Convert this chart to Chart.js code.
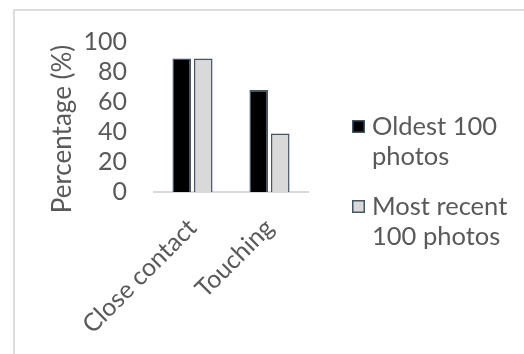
<!DOCTYPE html>
<html>
<head>
<meta charset="utf-8">
<script src="https://cdn.jsdelivr.net/npm/chart.js@4"></script>
<style>
  html, body { margin: 0; padding: 0; background: #ffffff; }
  #wrap { position: relative; width: 524px; height: 354px; overflow: hidden; }
  #chart { position: absolute; left: 0; top: 0; }
  #frame {
    position: absolute; left: 13px; top: 9px; right: 0; bottom: 0;
    border-left: 2px solid #dddddd; border-top: 2px solid #dddddd;
    pointer-events: none;
  }
</style>
</head>
<body>
<div id="wrap">
  <canvas id="chart" width="524" height="354"></canvas>
  <div id="frame"></div>
</div>
<script>
// Share of photos showing each kind of contact
const categories = ['Close contact', 'Touching'];
const oldestPhotos = [89, 68];
const recentPhotos = [89, 39];
const seriesNames = ['Oldest 100 photos', 'Most recent 100 photos'];
const legendLines = [['Oldest 100', 'photos'], ['Most recent', '100 photos']];
const yTicks = [0, 20, 40, 60, 80, 100];
const yTitle = 'Percentage (%)';

const FONT = 'Lato, "Open Sans", sans-serif';
const TEXT = '#595959';
const EDGE = '#44546a';

// Rotated value-axis title, placed left of the tick labels
const axisTitle = {
  id: 'axisTitle',
  afterDraw(chart, args, opts) {
    const ctx = chart.ctx;
    ctx.save();
    ctx.translate(opts.x, opts.y);
    ctx.rotate(-Math.PI / 2);
    ctx.font = opts.size + 'px ' + FONT;
    ctx.fillStyle = TEXT;
    ctx.textAlign = 'center';
    ctx.textBaseline = 'middle';
    ctx.fillText(opts.text, 0, 0);
    ctx.restore();
  }
};

// Legend with wrapped labels, drawn from the dataset styles
const wrappedLegend = {
  id: 'wrappedLegend',
  afterDraw(chart, args, opts) {
    const ctx = chart.ctx;
    ctx.save();
    ctx.font = opts.size + 'px ' + FONT;
    ctx.textAlign = 'left';
    ctx.textBaseline = 'alphabetic';
    chart.data.datasets.forEach((ds, i) => {
      const top = opts.y + i * opts.itemGap;
      ctx.fillStyle = ds.backgroundColor;
      ctx.fillRect(opts.x, top, opts.box, opts.box);
      ctx.lineWidth = 1.5;
      ctx.strokeStyle = ds.borderColor;
      ctx.strokeRect(opts.x + 0.75, top + 0.75, opts.box - 1.5, opts.box - 1.5);
      ctx.fillStyle = TEXT;
      opts.lines[i].forEach((line, j) => {
        ctx.fillText(line, opts.x + opts.box + opts.textGap, top + opts.firstBase + j * opts.lineGap);
      });
    });
    ctx.restore();
  }
};

new Chart(document.getElementById('chart'), {
  type: 'bar',
  data: {
    labels: categories,
    datasets: [
      {
        label: seriesNames[0],
        data: oldestPhotos,
        backgroundColor: '#000000',
        borderColor: EDGE,
        borderWidth: 1.5,
        categoryPercentage: 0.56,
        barPercentage: 0.86
      },
      {
        label: seriesNames[1],
        data: recentPhotos,
        backgroundColor: '#d9d9d9',
        borderColor: EDGE,
        borderWidth: 1.5,
        categoryPercentage: 0.56,
        barPercentage: 0.86
      }
    ]
  },
  options: {
    responsive: false,
    animation: false,
    events: [],
    layout: { padding: { left: 0, top: 35, right: 216, bottom: 0 } },
    plugins: {
      legend: { display: false },
      tooltip: { enabled: false },
      axisTitle: { text: yTitle, x: 63, y: 129, size: 26 },
      wrappedLegend: {
        lines: legendLines, x: 352, y: 120, box: 13, textGap: 7,
        firstBase: 15, lineGap: 30, itemGap: 80, size: 25.5
      }
    },
    scales: {
      x: {
        grid: { display: false, drawTicks: false },
        border: { display: true, color: '#d9d9d9', width: 2 },
        ticks: {
          color: TEXT,
          font: { family: FONT, size: 25 },
          minRotation: 45,
          maxRotation: 45,
          padding: 21
        },
        afterFit(scale) { scale.height = 162; }
      },
      y: {
        min: 0,
        max: 100,
        grid: { display: false, drawTicks: false },
        border: { display: false },
        afterBuildTicks(scale) { scale.ticks = yTicks.map(v => ({ value: v })); },
        ticks: {
          color: TEXT,
          font: { family: FONT, size: 25 },
          padding: 27,
          autoSkip: false
        },
        afterFit(scale) { scale.width = 154; }
      }
    }
  },
  plugins: [axisTitle, wrappedLegend]
});
</script>
</body>
</html>
